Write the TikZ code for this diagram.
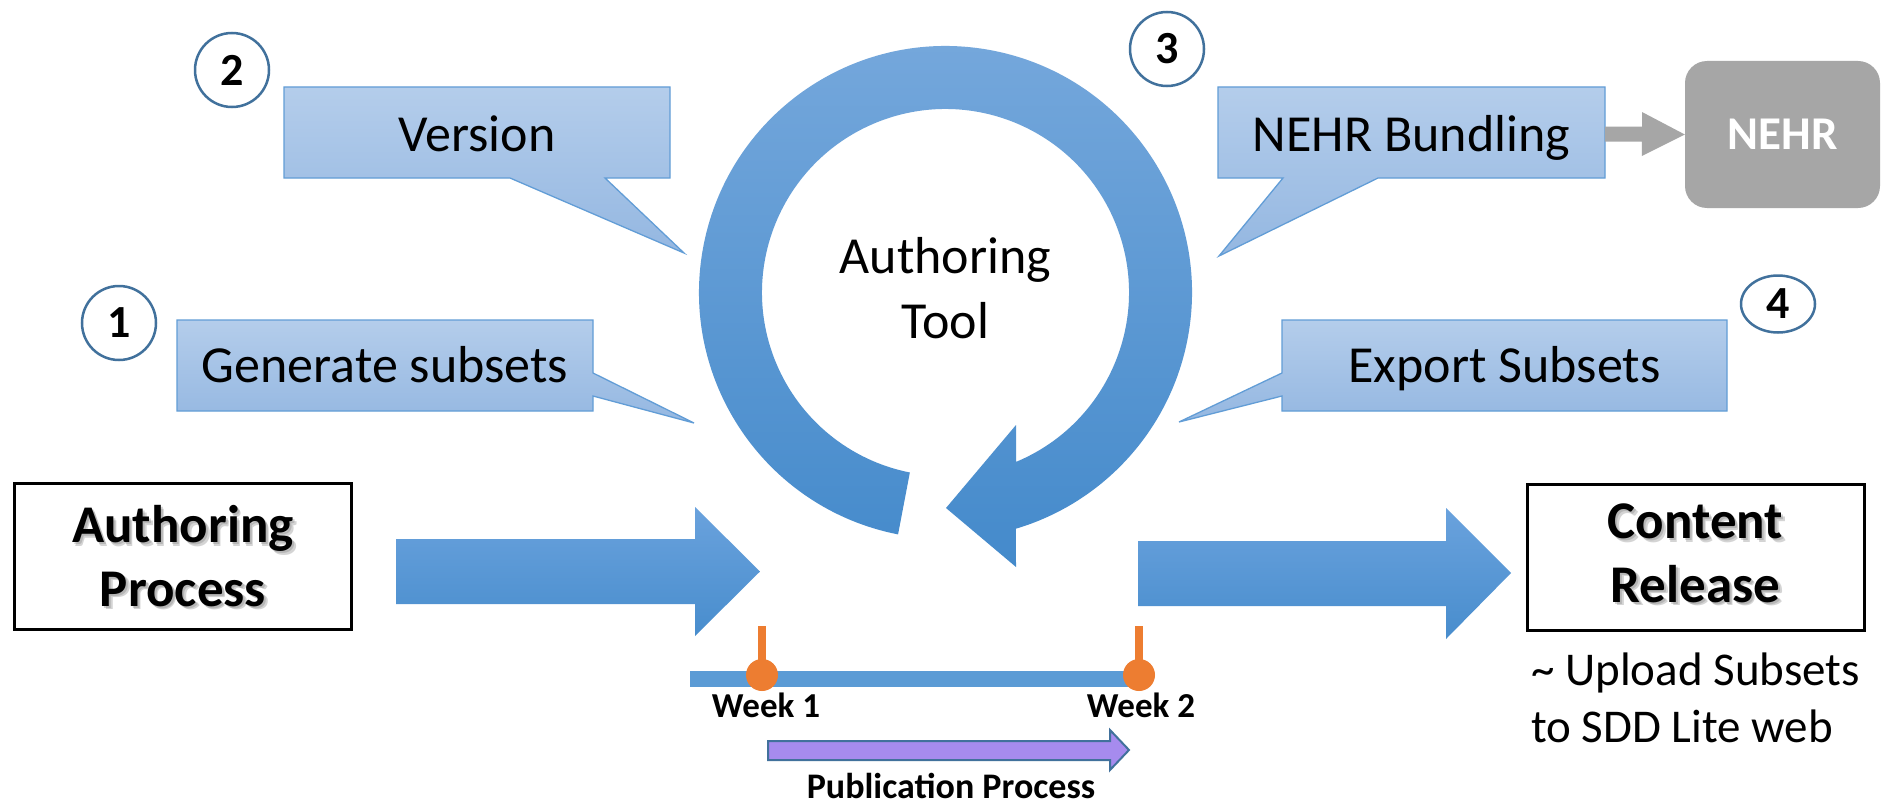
\documentclass[tikz,border=0pt]{standalone}
\usepackage{fontspec}
\setmainfont{Carlito}
\usetikzlibrary{calc,shapes.geometric}

\definecolor{ringtop}{RGB}{118,168,220}
\definecolor{ringbot}{RGB}{68,138,203}
\definecolor{arrtop}{RGB}{106,162,221}
\definecolor{arrbot}{RGB}{72,141,205}
\definecolor{calltop}{RGB}{180,205,235}
\definecolor{callbot}{RGB}{148,183,225}
\definecolor{callline}{RGB}{98,157,214}
\definecolor{barblue}{RGB}{91,155,213}
\definecolor{msorange}{RGB}{237,125,49}
\definecolor{pubfill}{RGB}{166,139,238}
\definecolor{publine}{RGB}{65,113,156}
\definecolor{numline}{RGB}{65,113,156}
\definecolor{nehrgray}{RGB}{166,166,166}

\begin{document}
\begin{tikzpicture}[x=1pt,y=1pt,
  callout/.style={top color=calltop, bottom color=callbot, draw=callline,
    line width=1.3pt, line join=miter},
  calltext/.style={anchor=base, inner sep=0pt, font=\fontsize{52}{62}\selectfont},
  numc/.style={circle, draw=numline, line width=2.5pt, fill=white,
    minimum size=74pt, inner sep=0pt, font=\bfseries\fontsize{46}{54}\selectfont},
  nume/.style={ellipse, draw=numline, line width=2.5pt, fill=white,
    minimum width=74pt, minimum height=57pt, inner sep=0pt,
    font=\bfseries\fontsize{46}{54}\selectfont},
  bigarrow/.style={top color=arrtop, bottom color=arrbot},
  procbox/.style={draw=black, line width=3pt, minimum width=337pt,
    minimum height=146pt, inner sep=0pt},
  boldtxt/.style={align=center, inner sep=0pt,
    font=\bfseries\fontsize{53}{63.5}\selectfont},
  shadowtxt/.style={boldtxt, text=black!55, opacity=0.3},
  weektxt/.style={anchor=base, inner sep=0pt, font=\bfseries\fontsize{35}{42}\selectfont},
  plaintxt/.style={anchor=base west, inner sep=0pt, font=\fontsize{47}{57}\selectfont}
]
\useasboundingbox (0,0) rectangle (1883,-808);
\fill[white] (0,0) rectangle (1883,-808);

% ---- circular "Authoring Tool" arrow ----
\coordinate (C) at (945.5,-292.5);
\path[top color=ringtop, bottom color=ringbot]
  ($(C)+(258.9:246.5)$) arc[start angle=258.9, end angle=-73.4, radius=246.5]
  -- (1016,-567) -- (946,-508) -- (1016,-425)
  -- ($(C)+(-67.4:183.5)$) arc[start angle=-67.4, end angle=258.8, radius=183.5]
  -- cycle;
\node[align=center, inner sep=0pt, font=\fontsize{52}{65}\selectfont]
  (tool) at (945.5,-288) {Authoring\\Tool};

% ---- callouts ----
\path[callout] (284,-87) -- (670,-87) -- (670,-178) -- (605,-178) -- (684,-253)
  -- (510,-178) -- (284,-178) -- cycle;
\node[calltext] (ver) at (477,-151) {Version};

\path[callout] (177,-320) -- (593,-320) -- (593,-373) -- (694,-423) -- (593,-396)
  -- (593,-411) -- (177,-411) -- cycle;
\node[calltext] (gen) at (385,-382) {Generate subsets};

\path[callout] (1218,-87) -- (1605,-87) -- (1605,-178) -- (1378,-178) -- (1219,-256)
  -- (1283,-178) -- (1218,-178) -- cycle;
\node[calltext] (bund) at (1411.5,-151) {NEHR Bundling};
\coordinate (bundR) at (1605,-133.5);

\path[callout] (1282,-320) -- (1727,-320) -- (1727,-411) -- (1282,-411) -- (1282,-396)
  -- (1179,-422) -- (1282,-373) -- cycle;
\node[calltext] (exp) at (1504.5,-382) {Export Subsets};

% ---- step numbers ----
\node[numc] (n1) at (119,-323) {1};
\node[numc] (n2) at (232,-70) {2};
\node[numc] (n3) at (1167,-49) {3};
\node[nume] (n4) at (1778,-304) {4};

% ---- NEHR target ----
\node[fill=nehrgray, rounded corners=22pt, minimum width=195pt, minimum height=147pt,
  inner sep=0pt, text=white, font=\bfseries\fontsize{47}{56}\selectfont]
  (nehr) at (1782.5,-134.5) {NEHR};
\fill[nehrgray] (bundR) ++(0,7) -- ++(37,0) -- ++(0,14.5) -- (nehr.west)
  -- ++(-43,-21.5) -- ++(0,14.5) -- ++(-37,0) -- cycle;

% ---- process boxes (soft text shadow under bold labels) ----
\node[shadowtxt] at (185,-558.2) {Authoring\\Process};
\node[shadowtxt] at (186.5,-559.7) {Authoring\\Process};
\node[procbox] (ap) at (183,-556.5) {};
\node[boldtxt] (aptxt) at (183,-556.2) {Authoring\\Process};

\node[shadowtxt] at (1697.5,-555.5) {Content\\Release};
\node[shadowtxt] at (1699,-557) {Content\\Release};
\node[procbox] (cr) at (1695.5,-557) {};
\node[boldtxt] (crtxt) at (1695.5,-553.5) {Content\\Release};

\node[plaintxt] (up1) at (1531,-685) {\textasciitilde{} Upload Subsets};
\node[plaintxt] (up2) at (1531,-742) {to SDD Lite web};

% ---- block arrows into and out of the loop ----
\path[bigarrow] (396,-539) -- (695,-539) -- (695,-507) -- (760,-571.5)
  -- (695,-636) -- (695,-604) -- (396,-604) -- cycle;
\path[bigarrow] (1138,-541) -- (1446,-541) -- (1446,-508) -- (1511,-573)
  -- (1446,-639) -- (1446,-606) -- (1138,-606) -- cycle;

% ---- timeline ----
\coordinate (t0) at (690,-679);
\coordinate (t1) at (762,-675);
\coordinate (t2) at (1139,-675);
\draw[barblue, line width=16pt] (t0) -- (t0 -| t2);
\draw[msorange, line width=8pt] (t1) -- ++(0,49);
\draw[msorange, line width=8pt] (t2) -- ++(0,49);
\node[circle, fill=msorange, minimum size=32pt, inner sep=0pt] (w1) at (t1) {};
\node[circle, fill=msorange, minimum size=32pt, inner sep=0pt] (w2) at (t2) {};
\node[weektxt] (wk1) at (766,-717) {Week 1};
\node[weektxt] (wk2) at (1141,-717) {Week 2};

\draw[publine, fill=pubfill, line width=2pt, line join=miter]
  (768,-741) -- (1110,-741) -- (1110,-730) -- (1129,-750) -- (1110,-770)
  -- (1110,-760) -- (768,-760) -- cycle;
\node[weektxt, font=\bfseries\fontsize{36}{43}\selectfont] (pub) at (951,-798)
  {Publication Process};
\end{tikzpicture}
\end{document}
